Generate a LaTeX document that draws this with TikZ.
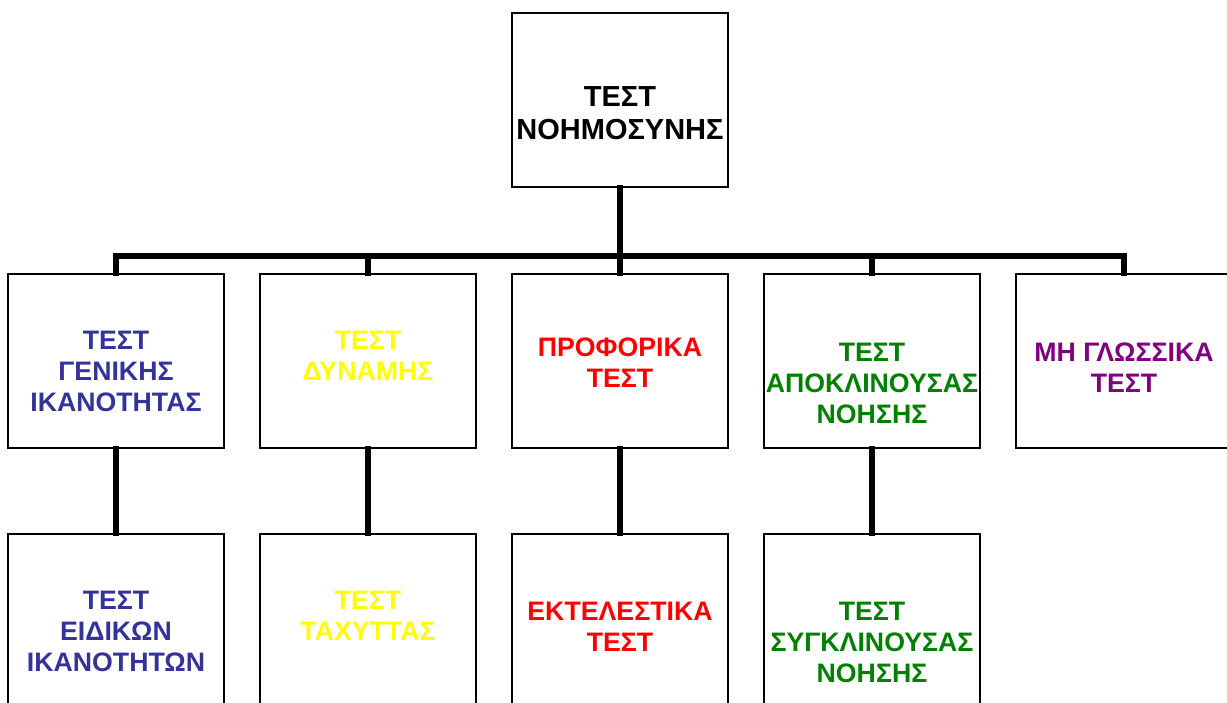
\documentclass[tikz,border=0pt]{standalone}
\usepackage{fontspec}
\setmainfont{Liberation Sans}
\usetikzlibrary{calc}
\definecolor{tblue}{HTML}{333399}
\definecolor{tyellow}{HTML}{FFFF00}
\definecolor{tred}{HTML}{FF0000}
\definecolor{tgreen}{HTML}{008000}
\definecolor{tpurple}{HTML}{800080}
\begin{document}
\begin{tikzpicture}[x=1pt,y=-1pt,
  box/.style={draw=black,line width=1.6pt,fill=white,rectangle,
    minimum width=216pt,minimum height=174pt,inner sep=0pt},
  lbl/.style={font=\fontsize{26.7}{31}\selectfont\bfseries,align=center,inner sep=0pt},
  biglbl/.style={lbl,font=\fontsize{29}{33}\selectfont\bfseries},
  conn/.style={line width=6pt,line join=miter,line cap=rect}]
\useasboundingbox (0,0) rectangle (1227,702);
\fill[white] (0,0) rectangle (1227,702);
% boxes
\node[box] (top) at (620,100) {};
\node[box] (b1) at (116,361) {};
\node[box] (b2) at (368,361) {};
\node[box] (b3) at (620,361) {};
\node[box] (b4) at (872,361) {};
\node[box] (b5) at (1124,361) {};
\node[box] (c1) at (116,621) {};
\node[box] (c2) at (368,621) {};
\node[box] (c3) at (620,621) {};
\node[box] (c4) at (872,621) {};
% connectors
\coordinate (bus) at (620,256);
\draw[conn] (top.south) -- (bus);
\draw[conn] (b1.north) |- (bus) -| (b5.north);
\draw[conn] (bus -| b2.north) -- (b2.north);
\draw[conn] (bus -| b3.north) -- (b3.north);
\draw[conn] (bus -| b4.north) -- (b4.north);
\draw[conn] (b1.south) -- (c1.north);
\draw[conn] (b2.south) -- (c2.north);
\draw[conn] (b3.south) -- (c3.north);
\draw[conn] (b4.south) -- (c4.north);
% labels
\node[biglbl,text=black] (ttop) at (620,113.5) {ΤΕΣΤ\\ΝΟΗΜΟΣΥΝΗΣ};
\node[lbl,text=tblue] (tb1) at (116,371) {ΤΕΣΤ\\ΓΕΝΙΚΗΣ\\ΙΚΑΝΟΤΗΤΑΣ};
\node[lbl,text=tyellow] (tb2) at (368,355.5) {ΤΕΣΤ\\ΔΥΝΑΜΗΣ};
\node[lbl,text=tred] (tb3) at (620,362.5) {ΠΡΟΦΟΡΙΚΑ\\ΤΕΣΤ};
\node[lbl,text=tgreen] (tb4) at (872,383) {ΤΕΣΤ\\ΑΠΟΚΛΙΝΟΥΣΑΣ\\ΝΟΗΣΗΣ};
\node[lbl,text=tpurple] (tb5) at (1124,367.5) {ΜΗ ΓΛΩΣΣΙΚΑ\\ΤΕΣΤ};
\node[lbl,text=tblue] (tc1) at (116,631) {ΤΕΣΤ\\ΕΙΔΙΚΩΝ\\ΙΚΑΝΟΤΗΤΩΝ};
\node[lbl,text=tyellow] (tc2) at (368,616) {ΤΕΣΤ\\ΤΑΧΥΤΤΑΣ};
\node[lbl,text=tred] (tc3) at (620,627) {ΕΚΤΕΛΕΣΤΙΚΑ\\ΤΕΣΤ};
\node[lbl,text=tgreen] (tc4) at (872,642.5) {ΤΕΣΤ\\ΣΥΓΚΛΙΝΟΥΣΑΣ\\ΝΟΗΣΗΣ};
\end{tikzpicture}
\end{document}
